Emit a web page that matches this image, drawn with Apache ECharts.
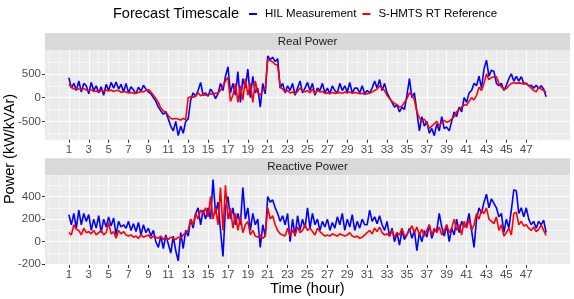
<!DOCTYPE html>
<html>
<head>
<meta charset="utf-8">
<script src="https://cdn.jsdelivr.net/npm/echarts@6/dist/echarts.min.js"></script>
<style>
html,body{margin:0;padding:0;background:#fff;}
#chart{width:574px;height:299px;}
</style>
</head>
<body>
<div id="chart"></div>
<script>
// ---- data (4 samples per hour, hours 1..49) ----
const startHour = 1;
const samplesPerHour = 4;
const xTickLabels = [1,3,5,7,9,11,13,15,17,19,21,23,25,27,29,31,33,35,37,39,41,43,45,47];
const facetNames = ['Real Power', 'Reactive Power'];
const seriesNames = ['HIL Measurement', 'S-HMTS RT Reference'];

const realHIL = [
 420,200,300,150, 350,120,300,250, 80,320,150,250, 100,230,50,280,
 150,320,200,330, 180,280,120,300, 100,230,160,80, 220,130,260,180,
 120,80,0,-80, -200,-280,-350,-300, -450,-600,-700,-500, -800,-600,-750,-500,
 -450,-50,100,30, 150,320,50,100, 30,180,100,-20, 80,300,150,450,
 650,100,300,50, 550,-100,400,200, 600,0,450,100, 200,-200,300,80,
 880,800,850,760, 820,200,300,100, 250,150,300,50, 200,350,100,200,
 320,150,300,50, 200,150,300,100, 200,80,250,150, 100,300,150,250,
 120,320,100,200, 200,100,250,80, 150,100,200,350, 200,380,150,300,
 100,0,-100,-200, -150,-300,-200,-250, 50,400,0,100, -300,-700,-400,-600,
 -500,-750,-650,-800, -550,-700,-400,-650, -620,-700,-500,-300, -400,-200,-300,0,
 -100,100,150,300, 250,450,200,600, 790,450,580,550, 300,250,300,150,
 260,400,500,350, 450,350,440,300, 300,250,260,200, 260,190,250,180,
 20];

const realRef = [
 280,230,180,200, 180,170,190,160, 150,170,130,140, 120,150,130,160,
 140,160,130,150, 150,110,130,120, 100,110,90,100, 110,130,120,150,
 170,120,50,-20, -100,-220,-280,-300, -380,-440,-450,-440, -450,-470,-440,-460,
 0,20,10,30, 100,40,60,50, 60,80,70,90, 100,150,250,350,
 430,-80,50,300, -100,250,-50,400, 50,300,-100,350, 100,50,150,200,
 800,780,750,700, 680,230,180,120, 150,100,120,80, 130,200,150,120,
 150,100,180,80, 150,120,130,90, 100,80,110,90, 100,110,90,120,
 100,120,90,110, 100,80,90,70, 80,100,120,150, 180,250,200,150,
 50,-20,-80,-120, -150,-200,-180,-100, -20,100,50,-50, -300,-420,-500,-450,
 -550,-650,-600,-550, -500,-600,-520,-480, -520,-500,-450,-400, -300,-250,-200,-150,
 -160,-80,0,-50, 50,220,150,300, 500,380,420,440, 440,300,220,180,
 190,250,300,320, 300,310,300,290, 300,250,200,150, 120,220,180,150,
 110];

const reactHIL = [
 240,150,250,120, 280,150,250,180, 240,100,200,120, 230,80,200,130,
 220,140,210,60, 180,130,150,120, 180,100,160,90, 170,60,150,80,
 120,50,100,0, -50,50,-60,60, -20,-100,50,-80, -170,80,-60,100,
 50,200,120,250, 300,150,280,200, 300,200,550,250, 350,100,-130,300,
 400,200,300,150, 250,150,480,200, 300,100,250,150, 200,-50,150,50,
 400,350,370,300, 250,180,230,150, 250,0,200,50, 230,100,200,120,
 300,120,250,150, 200,100,180,130, 200,100,170,120, 220,150,250,100,
 200,130,240,100, 180,120,200,150, 150,280,180,220, 160,230,150,100,
 180,50,120,0, 80,-30,100,20, 60,120,30,100, -80,80,0,100,
 40,150,30,100, 100,250,130,50, 150,0,120,60, 200,80,180,130,
 150,250,100,-50, 200,300,250,350, 420,300,380,340, 300,220,250,80,
 200,120,280,460, 450,250,300,220, 300,200,150,180, 120,180,150,190,
 80];

const reactRef = [
 80,60,150,110, 100,60,120,80, 90,70,100,60, 80,100,60,80,
 170,70,90,30, 100,70,90,60, 50,60,40,50, 30,60,40,50,
 60,30,50,40, 30,50,20,40, 20,40,30,20, 40,30,60,80,
 100,200,150,250, 200,280,250,300, 220,400,200,300, 150,480,100,500,
 200,300,120,250, 100,220,80,150, 180,60,100,50, 40,60,30,50,
 300,200,230,150, 100,70,60,50, 120,50,100,60, 130,80,100,150,
 100,120,90,60, 120,90,70,50, 60,50,70,60, 50,70,60,50,
 60,80,50,40, 50,30,40,60, 80,100,70,120, 90,130,80,60,
 70,50,100,40, 80,60,120,50, 60,100,140,80, 130,60,110,50,
 100,150,60,120, 80,130,60,100, 150,80,120,200, 100,150,60,180,
 120,200,100,150, 250,200,280,250, 300,200,180,160, 220,100,150,50,
 80,120,60,250, 260,150,180,140, 150,120,100,130, 90,110,150,100,
 55];

const realMajorY = [-500, 0, 500];
const realMinorY = [-750, -250, 250, 750];
const reactMajorY = [-200, 0, 200, 400];
const reactMinorY = [-100, 100, 300, 500];
const realRange = [-886, 1003];
const reactRange = [-206, 586];
const xRange = [-1.4, 51.4];

// ---- helpers ----
function toPairs(vals) {
  return vals.map((v, i) => [startHour + i / samplesPerHour, v]);
}
const minorX = [-1, 0];
for (let h = 2; h <= 48; h += 2) minorX.push(h);
minorX.push(49);

const PANEL_LEFT = 45, PANEL_W = 525;
const grids = [
  {left: PANEL_LEFT, width: PANEL_W, top: 50, height: 89.7},
  {left: PANEL_LEFT, width: PANEL_W, top: 175.5, height: 89.5}
];
const stripTops = [33, 158.3];
const STRIP_H = 17;
const FONT = '"Liberation Sans", Arial, Helvetica, sans-serif';

function majorX(gi, withName) {
  const ax = {
    type: 'value', gridIndex: gi, min: xRange[0], max: xRange[1], position: 'bottom',
    axisLine: {show: false, onZero: false},
    axisTick: {show: true, length: 3, customValues: xTickLabels, lineStyle: {color: '#333', width: 1}},
    axisLabel: {show: true, customValues: xTickLabels, color: '#4D4D4D', fontSize: 11.5, fontFamily: FONT, margin: 4},
    splitLine: {show: true, lineStyle: {color: '#ffffff', width: 1}}
  };
  if (withName) {
    ax.name = 'Time (hour)';
    ax.nameLocation = 'middle';
    ax.nameGap = 15;
    ax.nameTextStyle = {color: '#000', fontSize: 14.5, fontFamily: FONT};
  }
  return ax;
}
function minorXAxis(gi) {
  return {
    type: 'value', gridIndex: gi, min: xRange[0], max: xRange[1], position: 'bottom',
    axisLine: {show: false, onZero: false},
    axisTick: {show: false, customValues: minorX},
    axisLabel: {show: false},
    splitLine: {show: true, lineStyle: {color: '#ffffff', width: 0.5}}
  };
}
function majorY(gi, range, ticks) {
  return {
    type: 'value', gridIndex: gi, min: range[0], max: range[1], position: 'left',
    axisLine: {show: false, onZero: false},
    axisTick: {show: true, length: 3, customValues: ticks, lineStyle: {color: '#333', width: 1}},
    axisLabel: {show: true, customValues: ticks, color: '#4D4D4D', fontSize: 11.5, fontFamily: FONT, margin: 4},
    splitLine: {show: true, lineStyle: {color: '#ffffff', width: 1}}
  };
}
function minorY(gi, range, ticks) {
  return {
    type: 'value', gridIndex: gi, min: range[0], max: range[1], position: 'left',
    axisLine: {show: false, onZero: false},
    axisTick: {show: false, customValues: ticks},
    axisLabel: {show: false},
    splitLine: {show: true, lineStyle: {color: '#ffffff', width: 0.5}}
  };
}
function lineSeries(name, vals, color, gi) {
  return {
    type: 'line', name: name, data: toPairs(vals),
    xAxisIndex: gi * 2, yAxisIndex: gi * 2,
    showSymbol: false, symbol: 'none',
    lineStyle: {color: color, width: 1.6}, itemStyle: {color: color},
    animation: false, z: 3
  };
}

const graphics = [];
stripTops.forEach((t, i) => {
  graphics.push({type: 'rect', left: PANEL_LEFT, top: t, shape: {width: PANEL_W, height: STRIP_H}, style: {fill: '#D9D9D9'}, silent: true});
  graphics.push({type: 'text', x: PANEL_LEFT + PANEL_W / 2, y: t + STRIP_H / 2 + 0.5,
    style: {text: facetNames[i], fill: '#1A1A1A', font: '11.5px ' + FONT, textAlign: 'center', textVerticalAlign: 'middle'}});
});
graphics.push({type: 'text', x: 10, y: 149, rotation: Math.PI / 2,
  style: {text: 'Power (kW/kVAr)', fill: '#000', font: '14.5px ' + FONT, textAlign: 'center', textVerticalAlign: 'middle'}});

const chart = echarts.init(document.getElementById('chart'), null, {renderer: 'canvas'});
chart.setOption({
  animation: false,
  backgroundColor: '#ffffff',
  title: {text: 'Forecast Timescale', left: 113, top: 6, padding: 0,
    textStyle: {fontSize: 14.5, fontWeight: 'normal', color: '#000', fontFamily: FONT}},
  legend: {
    left: 249, top: 8, padding: 0, itemGap: 6, itemWidth: 8, itemHeight: 2,
    icon: 'rect', data: seriesNames,
    textStyle: {fontSize: 11.5, color: '#000', fontFamily: FONT, padding: [0, 0, 0, 3]}
  },
  grid: grids.map(g => Object.assign({show: true, backgroundColor: '#EBEBEB', borderWidth: 0, containLabel: false}, g)),
  xAxis: [majorX(0, false), minorXAxis(0), majorX(1, true), minorXAxis(1)],
  yAxis: [majorY(0, realRange, realMajorY), minorY(0, realRange, realMinorY),
          majorY(1, reactRange, reactMajorY), minorY(1, reactRange, reactMinorY)],
  graphic: graphics,
  series: [
    lineSeries(seriesNames[0], realHIL, '#0000FF', 0),
    lineSeries(seriesNames[1], realRef, '#FF0000', 0),
    lineSeries(seriesNames[0], reactHIL, '#0000FF', 1),
    lineSeries(seriesNames[1], reactRef, '#FF0000', 1)
  ]
});
</script>
</body>
</html>
